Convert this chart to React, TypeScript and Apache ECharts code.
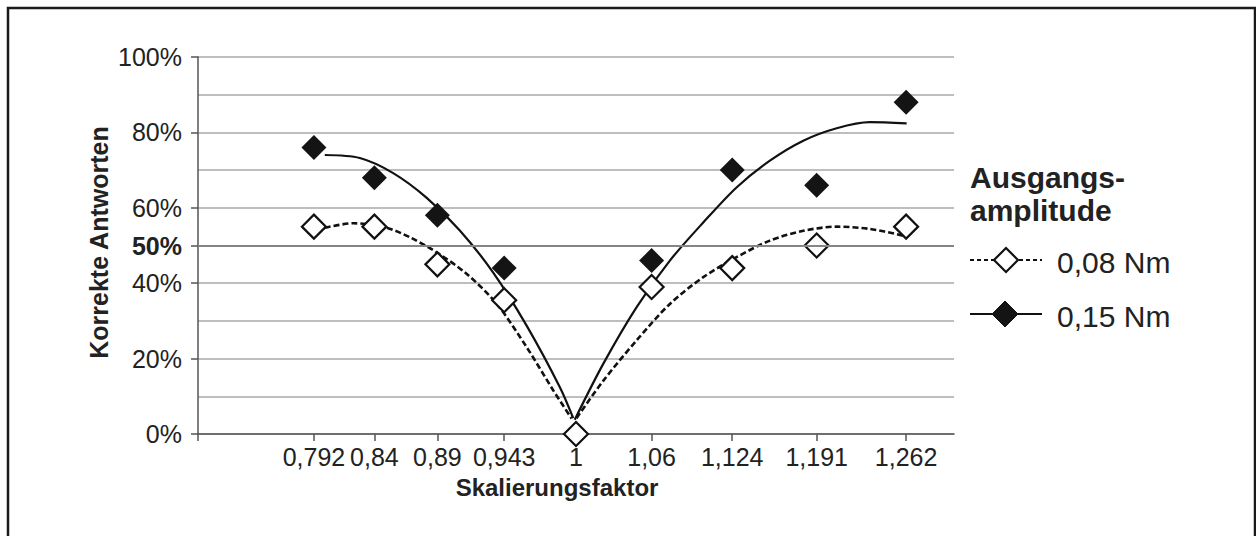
import React, { useEffect, useRef } from "react";
import * as echarts from "echarts";

const FONT = '"Liberation Sans", Arial, Helvetica, sans-serif';

// Scaling factors (x values of the measurements)
const xValues = [0.792, 0.84, 0.89, 0.943, 1, 1.06, 1.124, 1.191, 1.262];
// Correct answers in % for the two starting amplitudes
const values008 = [55, 55, 45, 35.5, 0, 39, 44, 50, 55];
const values015 = [76, 68, 58, 44, 0, 46, 70, 66, 88];

// Trend curves (x, %)
const trend015LeftX = [0.8006, 0.8284, 0.8549, 0.8813, 0.9078, 0.9343, 0.9607, 0.9872, 0.9978];
const trend015LeftY = [74, 73.2, 69.2, 62.7, 54, 42.8, 28.8, 12.4, 4.2];
const trend008LeftX = [0.8006, 0.8231, 0.847, 0.8681, 0.8893, 0.9131, 0.9369, 0.9607, 0.9819, 0.9965];
const trend008LeftY = [54.7, 55.9, 55.0, 52.2, 48.2, 42.5, 34.6, 23.1, 11.6, 4.1];
const trend015RightX = [0.999, 1.0216, 1.048, 1.0745, 1.101, 1.1274, 1.1539, 1.1804, 1.2069, 1.2333, 1.2624];
const trend015RightY = [3.8, 18.6, 33.6, 46.0, 56.1, 65.4, 72.5, 77.8, 81.1, 82.7, 82.4];
const trend008RightX = [1.0004, 1.0216, 1.048, 1.0745, 1.101, 1.1274, 1.1539, 1.1804, 1.2069, 1.2333, 1.2598];
const trend008RightY = [4.2, 14.1, 24.8, 34.5, 41.6, 46.9, 51.3, 53.9, 55.0, 54.4, 52.6];

// Axis
const xMin = 0.7;
const xMax = 1.3;
const yTickLabels = [0, 20, 40, 50, 60, 80, 100];
const referenceLine = 50;

const seriesNames = ["0,08 Nm", "0,15 Nm"];
const xTitle = "Skalierungsfaktor";
const yTitle = "Korrekte Antworten";
const legendTitle = ["Ausgangs-", "amplitude"];

const zip = (xs: number[], ys: number[]) => xs.map((x, i) => [x, ys[i]]);

const diamond = (cx: number, cy: number, r: number) => [
  [cx, cy - r],
  [cx + r, cy],
  [cx, cy + r],
  [cx - r, cy],
];

export default function App() {
  const ref = useRef<HTMLDivElement>(null);

  useEffect(() => {
    if (!ref.current) return;
    const chart = echarts.init(ref.current, undefined, { renderer: "svg" });
    const axisColor = "#555";
    const textColor = "#222";
    const curveColor = "#111";

    const curve = (name: string, xs: number[], ys: number[], dashed: boolean) => ({
      name,
      type: "line",
      data: zip(xs, ys),
      showSymbol: false,
      symbol: "none",
      smooth: 0.3,
      lineStyle: dashed
        ? { color: curveColor, width: 2.6, type: [6, 3] }
        : { color: curveColor, width: 2.2, type: "solid" },
      z: 2,
    });

    const option: any = {
      animation: false,
      backgroundColor: "#fff",
      grid: { left: 198, right: 302, top: 57, bottom: 102, containLabel: false },
      xAxis: {
        type: "value",
        min: xMin,
        max: xMax,
        axisLine: { show: true, onZero: false, lineStyle: { color: axisColor, width: 1.5 } },
        axisTick: {
          show: true,
          customValues: [xMin, ...xValues],
          length: 7,
          lineStyle: { color: axisColor, width: 1.5 },
        },
        axisLabel: {
          customValues: xValues,
          formatter: (v: number) => String(v).replace(".", ","),
          fontSize: 25,
          fontFamily: FONT,
          color: textColor,
          margin: 10,
        },
        splitLine: { show: false },
      },
      yAxis: [
        {
          type: "value",
          min: 0,
          max: 100,
          interval: 10,
          position: "left",
          axisLine: { show: true, lineStyle: { color: axisColor, width: 1.5 } },
          axisTick: { show: false },
          axisLabel: { show: false },
          splitLine: { show: true, lineStyle: { color: "#a8a8a8", width: 1.5 } },
        },
        {
          type: "value",
          min: 0,
          max: 100,
          position: "left",
          offset: 0,
          axisLine: { show: false },
          axisTick: {
            show: true,
            customValues: yTickLabels,
            length: 7,
            lineStyle: { color: axisColor, width: 1.5 },
          },
          axisLabel: {
            customValues: yTickLabels,
            formatter: (v: number) => (v === referenceLine ? `{b|${v}%}` : `${v}%`),
            fontSize: 25,
            fontFamily: FONT,
            color: textColor,
            margin: 16,
            rich: {
              b: { fontSize: 25, fontFamily: FONT, fontWeight: "bold", color: textColor },
            },
          },
          splitLine: { show: false },
        },
      ],
      series: [
        {
          type: "line",
          data: [],
          z: 1,
          silent: true,
          markLine: {
            silent: true,
            symbol: ["none", "none"],
            label: { show: false },
            lineStyle: { color: "#858585", width: 2.2, type: "solid" },
            data: [{ yAxis: referenceLine }],
          },
        },
        curve(seriesNames[1] + " Trend links", trend015LeftX, trend015LeftY, false),
        curve(seriesNames[1] + " Trend rechts", trend015RightX, trend015RightY, false),
        curve(seriesNames[0] + " Trend links", trend008LeftX, trend008LeftY, true),
        curve(seriesNames[0] + " Trend rechts", trend008RightX, trend008RightY, true),
        {
          name: seriesNames[1],
          type: "scatter",
          data: zip(xValues, values015),
          symbol: "diamond",
          symbolSize: 25,
          itemStyle: { color: "#141414", opacity: 1 },
          z: 3,
        },
        {
          name: seriesNames[0],
          type: "scatter",
          data: zip(xValues, values008),
          symbol: "diamond",
          symbolSize: 24,
          itemStyle: { color: "#fff", borderColor: curveColor, borderWidth: 2.2, opacity: 1 },
          z: 4,
        },
      ],
      graphic: [
        {
          type: "rect",
          shape: { x: 8, y: 8, width: 1247, height: 600 },
          style: { fill: "none", stroke: "#1a1a1a", lineWidth: 2.5 },
          silent: true,
        },
        {
          type: "text",
          x: 99,
          y: 242.5,
          rotation: Math.PI / 2,
          style: {
            text: yTitle,
            font: `bold 25px ${FONT}`,
            fill: textColor,
            align: "center",
            verticalAlign: "middle",
          },
        },
        {
          type: "text",
          x: 557,
          y: 487,
          style: {
            text: xTitle,
            font: `bold 24px ${FONT}`,
            fill: textColor,
            align: "center",
            verticalAlign: "middle",
          },
        },
        {
          type: "text",
          x: 970,
          y: 177,
          style: { text: legendTitle[0], font: `bold 30px ${FONT}`, fill: textColor, align: "left", verticalAlign: "middle" },
        },
        {
          type: "text",
          x: 970,
          y: 210,
          style: { text: legendTitle[1], font: `bold 30px ${FONT}`, fill: textColor, align: "left", verticalAlign: "middle" },
        },
        {
          type: "line",
          shape: { x1: 970, y1: 260, x2: 1042, y2: 260 },
          style: { stroke: curveColor, lineWidth: 2, lineDash: [4, 3] },
        },
        {
          type: "polygon",
          shape: { points: diamond(1006, 260, 12) },
          style: { fill: "#fff", stroke: curveColor, lineWidth: 2.2 },
        },
        {
          type: "text",
          x: 1057,
          y: 262.5,
          style: { text: seriesNames[0], font: `30px ${FONT}`, fill: textColor, align: "left", verticalAlign: "middle" },
        },
        {
          type: "line",
          shape: { x1: 970, y1: 314, x2: 1042, y2: 314 },
          style: { stroke: curveColor, lineWidth: 2.2 },
        },
        {
          type: "polygon",
          shape: { points: diamond(1005, 314, 13) },
          style: { fill: "#141414", stroke: "#141414", lineWidth: 1 },
        },
        {
          type: "text",
          x: 1057,
          y: 316,
          style: { text: seriesNames[1], font: `30px ${FONT}`, fill: textColor, align: "left", verticalAlign: "middle" },
        },
      ],
    };

    chart.setOption(option);
    return () => chart.dispose();
  }, []);

  return (
    <div
      ref={ref}
      style={{ position: "absolute", left: 0, top: 0, width: 1256, height: 536, background: "#fff" }}
    />
  );
}
